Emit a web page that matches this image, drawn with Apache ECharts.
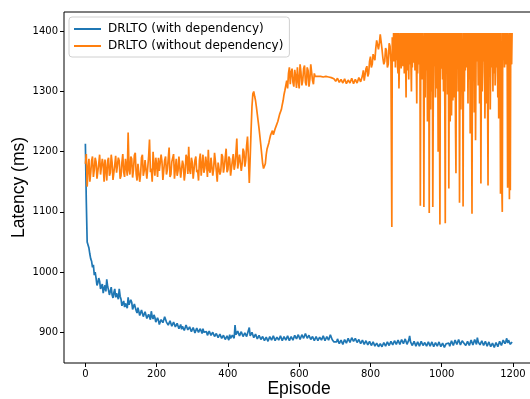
<!DOCTYPE html>
<html lang="en">
<head>
<meta charset="UTF-8">
<title>Latency per episode</title>
<style>
  html, body {margin:0; padding:0; background:#fff}
  #chart {width:530px; height:399px}
</style>
<script src="https://cdn.jsdelivr.net/npm/echarts@6/dist/echarts.min.js"></script>
</head>
<body>
<div id="chart"></div>
<script>
// one value every STEP episodes
const STEP = 2.5
const withDep = [
  1213,1120,1050,1045,1040,1030,1022,1018,1008,1012,995,1000,990,978,982,990,985,972,975,980,
  965,973,978,968,988,976,970,962,968,975,962,957,966,972,958,965,962,955,972,960,
  955,944,945,952,942,948,945,940,958,946,948,954,950,938,940,947,945,936,932,941,
  938,928,930,937,935,926,928,934,932,923,925,930,928,921,935,926,922,929,925,917,
  918,924,920,913,915,921,922,916,918,926,925,917,920,912,914,919,918,910,912,917,
  916,909,910,915,914,906,908,913,905,910,909,903,906,912,910,904,904,909,907,901,
  903,908,906,899,902,907,905,900,900,906,904,898,906,900,898,903,901,895,897,902,
  902,895,896,900,899,893,894,898,897,891,893,897,896,890,891,895,894,888,890,894,
  893,887,896,890,891,895,897,890,912,896,897,902,900,894,896,901,899,893,894,899,
  900,893,896,903,908,894,895,900,898,891,892,897,896,889,890,895,894,888,889,893,
  891,886,887,892,890,885,888,893,892,887,889,894,891,886,887,892,893,887,889,894,
  891,886,888,893,892,887,889,894,891,886,888,893,893,887,889,895,895,889,891,896,
  894,888,890,896,896,890,892,898,897,890,891,895,894,888,889,893,892,886,888,893,
  891,886,887,892,893,887,889,894,891,886,888,893,893,887,890,896,895,888,889,884,
  887,882,884,889,886,881,882,887,885,880,883,888,887,882,884,890,889,883,885,891,
  893,885,886,890,889,883,884,888,887,881,883,887,886,880,882,886,885,879,881,885,
  884,878,880,884,883,877,878,882,880,876,877,881,881,876,878,883,882,877,879,884,
  883,878,880,885,884,879,881,886,885,880,882,887,886,880,883,888,887,881,884,889,
  886,880,882,887,894,884,883,878,880,885,883,877,879,884,882,877,880,885,884,878,
  879,883,882,877,880,884,883,877,879,884,881,876,878,883,882,877,879,884,881,876,
  878,882,880,875,876,881,879,884,882,877,880,886,884,878,881,887,886,880,882,888,
  885,879,881,886,889,882,883,878,880,885,884,878,881,887,885,879,882,888,886,880,
  891,884,884,879,881,886,884,878,880,885,883,877,879,884,881,876,877,882,880,875,
  878,883,881,876,879,885,883,878,881,887,887,881,885,890,882,887,885,880,883,884
]
// without dependency: episodes 0 .. 857.5, every STEP
const withoutDepEarly = [
  1180,1196,1142,1172,1188,1150,1165,1185,1192,1158,1170,1190,1183,1155,1158,1180,1195,1162,1160,1188,
  1178,1150,1187,1170,1152,1185,1190,1160,1165,1195,1182,1153,1155,1178,1193,1165,1168,1190,1185,1155,
  1160,1182,1196,1166,1158,1188,1175,1160,1232,1170,1162,1192,1188,1157,1170,1194,1198,1163,1152,1180,
  1180,1150,1163,1190,1195,1160,1168,1186,1185,1155,1158,1192,1220,1166,1172,1150,1200,1176,1160,1190,
  1178,1158,1190,1168,1165,1195,1183,1153,1156,1186,1192,1162,1170,1188,1207,1158,1162,1183,1180,1196,
  1155,1172,1188,1160,1168,1192,1194,1157,1160,1185,1178,1152,1165,1195,1190,1163,1208,1170,1163,1190,
  1182,1155,1157,1186,1192,1166,1170,1152,1185,1197,1160,1178,1195,1165,1172,1192,1180,1158,1203,1170,
  1165,1190,1188,1160,1172,1198,1196,1168,1150,1182,1185,1162,1168,1196,1192,1165,1175,1190,1205,1166,
  1170,1192,1188,1160,1163,1185,1196,1170,1178,1198,1222,1172,1175,1195,1193,1168,1180,1205,1200,1175,
  1185,1210,1225,1190,1148,1190,1235,1275,1296,1300,1292,1285,1274,1262,1250,1238,1224,1210,1195,1180,
  1172,1175,1180,1195,1205,1210,1215,1222,1228,1225,1235,1228,1230,1238,1242,1245,1250,1256,1262,1265,
  1270,1278,1285,1295,1302,1310,1318,1305,1330,1340,1312,1332,1338,1315,1308,1336,1325,1306,1340,1318,
  1305,1345,1332,1310,1318,1338,1343,1315,1310,1340,1335,1308,1320,1345,1348,1318,1312,1330,1325,1325,
  1325,1325,1325,1325,1325,1325,1325,1324,1324,1325,1325,1324,1324,1324,1324,1323,1323,1322,1322,1321,
  1320,1317,1318,1322,1321,1315,1316,1320,1319,1314,1315,1321,1320,1313,1314,1319,1318,1314,1316,1322,
  1321,1313,1314,1320,1319,1314,1315,1323,1322,1316,1317,1326,1335,1318,1320,1338,1342,1325,1330,1350,
  1358,1340,1345,1362,1365,1352,1372,1385,1388,1370,1380,1395,1398,1370,1355,1345,1350,1372,1368,1340,
  1345,1380,1375,1350
]
// without dependency: episodes 860 .. 1198.75, every LATE_STEP (denser, it swings a lot here)
const LATE_START = 860
const LATE_STEP = 1.25
const withoutDepLate = [
  1075,1390,1380,1350,1397,1365,1350,1397,1340,1372,1397,1352,1397,1340,1330,1397,
  1305,1345,1370,1397,1360,1338,1397,1360,1397,1342,1345,1397,1330,1368,1397,1350,
  1290,1397,1360,1335,1397,1355,1320,1397,1345,1362,1397,1340,1300,1397,1340,1370,1397,1348,1355,1397,
  1335,1358,1397,1345,1280,1397,1330,1365,1397,1350,1345,1397,1110,1362,1397,1338,1320,1397,1350,1365,
  1108,1397,1397,1290,1397,1340,1335,1397,1250,1360,1397,1345,1098,1397,1340,1270,1397,1300,1310,1397,
  1108,1280,1397,1342,1340,1397,1290,1350,1397,1305,1330,1397,1200,1340,1397,1260,1079,1397,1350,1338,
  1397,1360,1320,1397,1300,1345,1397,1275,1081,1397,1335,1350,1397,1295,1340,1397,1139,1365,1397,1250,
  1350,1397,1260,1340,1397,1285,1330,1397,1290,1352,1397,1240,1164,1397,1345,1362,1397,1300,1325,1397,
  1115,1350,1397,1270,1345,1397,1300,1358,1109,1397,1397,1300,1397,1335,1335,1397,1340,1362,1397,1280,
  1397,1340,1320,1397,1230,1350,1397,1290,1097,1397,1345,1338,1397,1265,1330,1397,1219,1345,1397,1360,
  1350,1397,1310,1342,1397,1280,1345,1397,1147,1350,1397,1300,1335,1397,1350,1365,1397,1255,1320,1397,
  1280,1352,1397,1290,1144,1397,1340,1360,1397,1270,1345,1397,1340,1355,1397,1300,1397,1350,1330,1397,
  1310,1348,1397,1340,1397,1356,1290,1397,1255,1345,1397,1362,1130,1397,1397,1140,1100,1397,1397,1352,
  1397,1340,1340,1397,1397,1345,1397,1360,1140,1397,1397,1345,1121,1397,1136,1397,1397,1345,1397,1397
]
const xTicks = [0, 200, 400, 600, 800, 1000, 1200]
const yTicks = [900, 1000, 1100, 1200, 1300, 1400]

const toPoints = (arr, start, step) => arr.map((v, i) => [start + i * step, v])

const chart = echarts.init(document.getElementById('chart'), null, {renderer: 'canvas'})

const tickLabel = {
  fontFamily: 'DejaVu Sans', fontSize: 10, color: '#000', margin: 6,
  formatter: v => String(v)
}

chart.setOption({
  animation: false,
  grid: {
    left: 64, top: 12, right: -4, bottom: 36,
    containLabel: false, outerBoundsMode: 'none',
    show: true, borderColor: '#000', borderWidth: 1
  },
  legend: {
    orient: 'vertical',
    left: 69, top: 17,
    padding: [6, 6, 5, 5],
    itemGap: 5,
    itemWidth: 27, itemHeight: 2,
    icon: 'rect',
    borderColor: '#d0d0d0', borderWidth: 1, borderRadius: 3,
    textStyle: {fontFamily: 'DejaVu Sans', fontSize: 12, color: '#000', padding: [0, 0, 0, 2]},
    data: ['DRLTO (with dependency)', 'DRLTO (without dependency)']
  },
  xAxis: {
    type: 'value',
    min: -60, max: 1259,
    name: 'Episode',
    nameLocation: 'middle',
    nameGap: 17,
    nameMoveOverlap: false,
    nameTextStyle: {fontFamily: 'Liberation Sans', fontSize: 17.5, color: '#000'},
    axisLine: {show: false, onZero: false},
    axisTick: {show: true, customValues: xTicks, length: 4, lineStyle: {color: '#000'}},
    axisLabel: Object.assign({customValues: xTicks}, tickLabel),
    splitLine: {show: false}
  },
  yAxis: {
    type: 'value',
    min: 849, max: 1432,
    name: 'Latency (ms)',
    nameLocation: 'middle',
    nameGap: 36,
    nameMoveOverlap: false,
    nameTextStyle: {fontFamily: 'Liberation Sans', fontSize: 17.5, color: '#000'},
    axisLine: {show: false, onZero: false},
    axisTick: {show: true, customValues: yTicks, length: 4, lineStyle: {color: '#000'}},
    axisLabel: Object.assign({customValues: yTicks}, tickLabel),
    splitLine: {show: false}
  },
  series: [
    {
      name: 'DRLTO (with dependency)',
      type: 'line',
      data: toPoints(withDep, 0, STEP),
      showSymbol: false,
      color: '#1f77b4',
      lineStyle: {width: 1.7, color: '#1f77b4'}
    },
    {
      name: 'DRLTO (without dependency)',
      type: 'line',
      data: toPoints(withoutDepEarly, 0, STEP).concat(toPoints(withoutDepLate, LATE_START, LATE_STEP)),
      showSymbol: false,
      color: '#ff7f0e',
      lineStyle: {width: 1.7, color: '#ff7f0e'}
    }
  ]
})
</script>
</body>
</html>
